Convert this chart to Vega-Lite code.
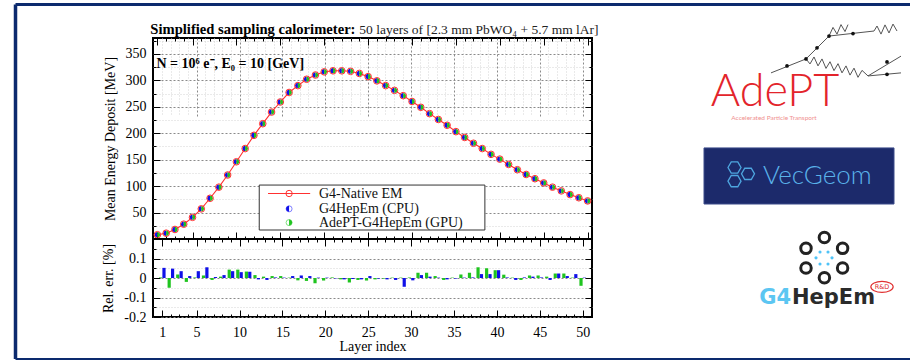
{
  "$schema": "https://vega.github.io/schema/vega-lite/v6.json",
  "padding": {"left": 13, "top": 2, "right": 0, "bottom": 0},
  "background": "white",
  "width": 439,
  "height": 279,
  "config": {
    "view": {"stroke": "black", "strokeWidth": 2},
    "font": "Liberation Serif",
    "axis": {
      "labelFont": "Liberation Serif", "labelFontSize": 14, "labelColor": "black",
      "titleFont": "Liberation Serif", "titleFontSize": 14, "titleFontWeight": "normal", "titleColor": "black",
      "domain": false, "tickColor": "black", "tickWidth": 1
    }
  },
  "datasets": {
    "cal": [
      {"layer": 1, "edep": 8, "relCPU": 0.052, "relGPU": 0.003},
      {"layer": 2, "edep": 11, "relCPU": 0.048, "relGPU": -0.05},
      {"layer": 3, "edep": 18, "relCPU": 0.035, "relGPU": 0.018},
      {"layer": 4, "edep": 28, "relCPU": 0.01, "relGPU": -0.02},
      {"layer": 5, "edep": 41, "relCPU": 0.035, "relGPU": 0.003},
      {"layer": 6, "edep": 57, "relCPU": 0.055, "relGPU": 0.013},
      {"layer": 7, "edep": 77, "relCPU": 0.005, "relGPU": -0.01},
      {"layer": 8, "edep": 98, "relCPU": 0.015, "relGPU": 0.007},
      {"layer": 9, "edep": 121, "relCPU": 0.035, "relGPU": 0.043},
      {"layer": 10, "edep": 146, "relCPU": 0.03, "relGPU": 0.043},
      {"layer": 11, "edep": 171, "relCPU": 0.032, "relGPU": 0.033},
      {"layer": 12, "edep": 196, "relCPU": -0.007, "relGPU": 0.015},
      {"layer": 13, "edep": 218, "relCPU": -0.01, "relGPU": 0.007},
      {"layer": 14, "edep": 240, "relCPU": 0.003, "relGPU": 0.01},
      {"layer": 15, "edep": 259, "relCPU": 0.002, "relGPU": 0.01},
      {"layer": 16, "edep": 277, "relCPU": 0.01, "relGPU": 0.002},
      {"layer": 17, "edep": 290, "relCPU": 0.013, "relGPU": -0.012},
      {"layer": 18, "edep": 302, "relCPU": 0.01, "relGPU": -0.015},
      {"layer": 19, "edep": 310, "relCPU": 0.002, "relGPU": -0.027},
      {"layer": 20, "edep": 316, "relCPU": 0.002, "relGPU": -0.013},
      {"layer": 21, "edep": 318, "relCPU": -0.002, "relGPU": 0.003},
      {"layer": 22, "edep": 318, "relCPU": -0.007, "relGPU": -0.007},
      {"layer": 23, "edep": 317, "relCPU": -0.005, "relGPU": -0.023},
      {"layer": 24, "edep": 313, "relCPU": -0.007, "relGPU": -0.01},
      {"layer": 25, "edep": 307, "relCPU": 0.01, "relGPU": -0.013},
      {"layer": 26, "edep": 299, "relCPU": -0.003, "relGPU": -0.007},
      {"layer": 27, "edep": 290, "relCPU": -0.007, "relGPU": -0.003},
      {"layer": 28, "edep": 281, "relCPU": -0.01, "relGPU": 0.002},
      {"layer": 29, "edep": 271, "relCPU": -0.045, "relGPU": 0.002},
      {"layer": 30, "edep": 260, "relCPU": -0.012, "relGPU": 0.002},
      {"layer": 31, "edep": 249, "relCPU": 0.015, "relGPU": 0.027},
      {"layer": 32, "edep": 237, "relCPU": 0.007, "relGPU": 0.027},
      {"layer": 33, "edep": 226, "relCPU": 0.002, "relGPU": 0.01},
      {"layer": 34, "edep": 215, "relCPU": -0.007, "relGPU": -0.01},
      {"layer": 35, "edep": 203, "relCPU": -0.003, "relGPU": 0.002},
      {"layer": 36, "edep": 192, "relCPU": 0.002, "relGPU": 0.018},
      {"layer": 37, "edep": 181, "relCPU": 0.003, "relGPU": 0.027},
      {"layer": 38, "edep": 171, "relCPU": 0.02, "relGPU": 0.055},
      {"layer": 39, "edep": 160, "relCPU": 0.02, "relGPU": 0.05},
      {"layer": 40, "edep": 151, "relCPU": 0.04, "relGPU": 0.04},
      {"layer": 41, "edep": 141, "relCPU": 0.003, "relGPU": 0.017},
      {"layer": 42, "edep": 131, "relCPU": -0.01, "relGPU": 0.002},
      {"layer": 43, "edep": 122, "relCPU": 0.003, "relGPU": -0.01},
      {"layer": 44, "edep": 114, "relCPU": 0.007, "relGPU": 0.013},
      {"layer": 45, "edep": 106, "relCPU": 0.003, "relGPU": 0.013},
      {"layer": 46, "edep": 98, "relCPU": -0.01, "relGPU": 0.007},
      {"layer": 47, "edep": 91, "relCPU": 0.023, "relGPU": 0.023},
      {"layer": 48, "edep": 84, "relCPU": 0.01, "relGPU": 0.023},
      {"layer": 49, "edep": 78, "relCPU": 0.02, "relGPU": 0.002},
      {"layer": 50, "edep": 72, "relCPU": 0.002, "relGPU": -0.04}
    ],
    "tracks": [
      {"track": "a", "u": 35, "v": 12.5}, {"track": "a", "u": 52.5, "v": 7.5}, {"track": "a", "u": 64, "v": -0.7}, {"track": "a", "u": 86.5, "v": -2.5},
      {"track": "p1", "u": 86.5, "v": -2.5}, {"track": "p1", "u": 88, "v": -4.3}, {"track": "p1", "u": 90, "v": -1.4}, {"track": "p1", "u": 92, "v": -4.7}, {"track": "p1", "u": 94, "v": -1.8}, {"track": "p1", "u": 96, "v": -5.0}, {"track": "p1", "u": 98, "v": -2.5},
      {"track": "p2", "u": 64, "v": -0.7}, {"track": "p2", "u": 66, "v": -3.8}, {"track": "p2", "u": 68, "v": -1.4}, {"track": "p2", "u": 70, "v": -4.8}, {"track": "p2", "u": 72, "v": -2.3}, {"track": "p2", "u": 73.5, "v": -4.8},
      {"track": "p3", "u": 52.5, "v": 7.5}, {"track": "p3", "u": 54.5, "v": 9.3}, {"track": "p3", "u": 56.5, "v": 6.8}, {"track": "p3", "u": 58.5, "v": 10.0}, {"track": "p3", "u": 60.5, "v": 7.5}, {"track": "p3", "u": 62.5, "v": 10.9}, {"track": "p3", "u": 64.5, "v": 8.5}, {"track": "p3", "u": 66.5, "v": 11.7}, {"track": "p3", "u": 68.5, "v": 9.2}, {"track": "p3", "u": 70.5, "v": 12.5}, {"track": "p3", "u": 72.5, "v": 10.0}, {"track": "p3", "u": 74.5, "v": 13.3}, {"track": "p3", "u": 76.5, "v": 10.8}, {"track": "p3", "u": 78.5, "v": 14.1}, {"track": "p3", "u": 80.5, "v": 11.6}, {"track": "p3", "u": 83.5, "v": 13.6},
      {"track": "e1", "u": 83.5, "v": 13.6}, {"track": "e1", "u": 100, "v": 6.5},
      {"track": "e2", "u": 83.5, "v": 13.6}, {"track": "e2", "u": 100, "v": 12.5}
    ],
    "vertices": [
      {"u": 52.5, "v": 7.5}, {"u": 64, "v": -0.7}, {"u": 43, "v": 10.0}, {"u": 58, "v": 3.5}, {"u": 76, "v": -1.6}, {"u": 93, "v": 8.6}, {"u": 93, "v": 13.0}
    ],
    "hexes": [{"u": 16.75, "v": 46.4}, {"u": 16.75, "v": 51.3}, {"u": 23.5, "v": 48.7}],
    "rings": [{"u": 61.7, "v": 71.5}, {"u": 52.5, "v": 75.4}, {"u": 70.8, "v": 75.4}, {"u": 52.5, "v": 82.4}, {"u": 70.8, "v": 82.4}, {"u": 61.7, "v": 85.9}],
    "dots": [{"u": 59.5, "v": 76.7}, {"u": 63.5, "v": 76.7}, {"u": 57.5, "v": 78.8}, {"u": 65.5, "v": 78.8}, {"u": 59.5, "v": 81.0}, {"u": 63.5, "v": 81.0}]
  },
  "layer": [
    {
      "data": {"name": "cal"},
      "layer": [
        {
          "mark": {"type": "line", "color": "#ff3030", "strokeWidth": 1.1},
          "encoding": {
            "x": {"field": "layer", "type": "quantitative",
              "scale": {"domain": [0.5, 50.5], "nice": false, "zero": false},
              "axis": {"orient": "bottom", "offset": -78, "title": null, "labels": false, "grid": false,
                "values": [1,2,3,4,5,6,7,8,9,10,11,12,13,14,15,16,17,18,19,20,21,22,23,24,25,26,27,28,29,30,31,32,33,34,35,36,37,38,39,40,41,42,43,44,45,46,47,48,49,50],
                "tickSize": {"condition": {"test": "datum.value % 5 === 0 || datum.value === 1", "value": -7}, "value": -3}}},
            "y": {"field": "edep", "type": "quantitative",
              "scale": {"domain": [0, 380], "nice": false, "range": [201, 0]},
              "axis": {"orient": "left", "title": "Mean Energy Deposit [MeV]", "titlePadding": 8,
                "values": [0,25,50,75,100,125,150,175,200,225,250,275,300,325,350,375],
                "labelExpr": "datum.value % 50 === 0 ? datum.label : ''",
                "labelPadding": 14,
                "tickSize": {"condition": {"test": "datum.value % 50 === 0", "value": -7}, "value": -3},
                "grid": true,
                "gridColor": {"condition": {"test": "datum.value % 50 === 0", "value": "#8a8a8a"}, "value": "#d4d4d4"},
                "gridDash": {"condition": {"test": "datum.value % 50 === 0", "value": [2, 2]}, "value": [1, 2]}}}
          }
        },
        {
          "mark": {"type": "point", "shape": "M0,-1A1,1,0,0,0,0,1Z", "filled": true, "color": "#1010e8", "size": 30, "opacity": 1},
          "encoding": {
            "x": {"field": "layer", "type": "quantitative",
              "axis": {"orient": "top", "title": null, "labels": false, "grid": false,
                "values": [1,2,3,4,5,6,7,8,9,10,11,12,13,14,15,16,17,18,19,20,21,22,23,24,25,26,27,28,29,30,31,32,33,34,35,36,37,38,39,40,41,42,43,44,45,46,47,48,49,50],
                "tickSize": {"condition": {"test": "datum.value % 5 === 0 || datum.value === 1", "value": -7}, "value": -3}}},
            "y": {"field": "edep", "type": "quantitative",
              "axis": {"orient": "right", "title": null, "labels": false, "grid": false,
                "values": [0,25,50,75,100,125,150,175,200,225,250,275,300,325,350,375],
                "tickSize": {"condition": {"test": "datum.value % 50 === 0", "value": -7}, "value": -3}}}
          }
        },
        {
          "mark": {"type": "point", "shape": "M0,-1A1,1,0,0,1,0,1Z", "filled": true, "color": "#1fc41f", "size": 30, "opacity": 1},
          "encoding": {
            "x": {"field": "layer", "type": "quantitative", "axis": null},
            "y": {"field": "edep", "type": "quantitative", "axis": null}
          }
        },
        {
          "mark": {"type": "point", "shape": "circle", "filled": false, "color": "#ff3030", "size": 44, "strokeWidth": 1, "opacity": 1},
          "encoding": {
            "x": {"field": "layer", "type": "quantitative", "axis": null},
            "y": {"field": "edep", "type": "quantitative", "axis": null}
          }
        },
        {
          "data": {"values": [{}]},
          "mark": {"type": "rule", "color": "black", "strokeWidth": 2},
          "encoding": {"x": {"datum": 0.5, "axis": null}, "x2": {"datum": 50.5}, "y": {"datum": 0, "axis": null}}
        },
        {
          "data": {"values": [{}]},
          "mark": {"type": "text", "text": "Simplified sampling calorimeter:", "font": "Liberation Serif", "fontSize": 14.6, "fontWeight": "bold", "align": "left", "baseline": "middle", "color": "black"},
          "encoding": {"x": {"datum": 0.2, "axis": null}, "y": {"datum": 396, "axis": null}}
        },
        {
          "data": {"values": [{}]},
          "mark": {"type": "text", "text": "50 layers of [2.3 mm PbWO₄ + 5.7 mm lAr]", "font": "Liberation Serif", "fontSize": 13.5, "align": "left", "baseline": "middle", "color": "#222"},
          "encoding": {"x": {"datum": 24.0, "axis": null}, "y": {"datum": 396, "axis": null}}
        },
        {
          "data": {"values": [{}]},
          "mark": {"type": "text", "text": "N = 10⁶ e⁻, E₀ = 10 [GeV]", "font": "Liberation Serif", "fontSize": 14, "fontWeight": "bold", "align": "left", "baseline": "middle", "color": "black"},
          "encoding": {"x": {"datum": 0.9, "axis": null}, "y": {"datum": 331, "axis": null}}
        },
        {
          "data": {"values": [{}]},
          "mark": {"type": "rect", "fill": "white", "stroke": "#333", "strokeWidth": 1},
          "encoding": {"x": {"datum": 12.6, "axis": null}, "x2": {"datum": 38.3}, "y": {"datum": 102, "axis": null}, "y2": {"datum": 17}}
        },
        {
          "data": {"values": [{}]},
          "mark": {"type": "rule", "color": "#ff3030", "strokeWidth": 1.1},
          "encoding": {"x": {"datum": 13.6, "axis": null}, "x2": {"datum": 18.4}, "y": {"datum": 86, "axis": null}}
        },
        {
          "data": {"values": [{}]},
          "mark": {"type": "point", "shape": "circle", "filled": false, "color": "#ff3030", "size": 40, "strokeWidth": 1, "opacity": 1},
          "encoding": {"x": {"datum": 16.0, "axis": null}, "y": {"datum": 86, "axis": null}}
        },
        {
          "data": {"values": [{}]},
          "mark": {"type": "point", "shape": "circle", "filled": false, "color": "#8080ff", "size": 36, "strokeWidth": 1, "opacity": 1},
          "encoding": {"x": {"datum": 16.0, "axis": null}, "y": {"datum": 57, "axis": null}}
        },
        {
          "data": {"values": [{}]},
          "mark": {"type": "point", "shape": "M0,-1A1,1,0,0,0,0,1Z", "filled": true, "color": "#1010e8", "size": 36, "opacity": 1},
          "encoding": {"x": {"datum": 16.0, "axis": null}, "y": {"datum": 57, "axis": null}}
        },
        {
          "data": {"values": [{}]},
          "mark": {"type": "point", "shape": "circle", "filled": false, "color": "#80e080", "size": 36, "strokeWidth": 1, "opacity": 1},
          "encoding": {"x": {"datum": 16.0, "axis": null}, "y": {"datum": 31, "axis": null}}
        },
        {
          "data": {"values": [{}]},
          "mark": {"type": "point", "shape": "M0,-1A1,1,0,0,1,0,1Z", "filled": true, "color": "#1fc41f", "size": 36, "opacity": 1},
          "encoding": {"x": {"datum": 16.0, "axis": null}, "y": {"datum": 31, "axis": null}}
        },
        {
          "data": {"values": [{"label": "G4-Native EM", "row": 86}, {"label": "G4HepEm (CPU)", "row": 57}, {"label": "AdePT-G4HepEm (GPU)", "row": 31}]},
          "mark": {"type": "text", "font": "Liberation Serif", "fontSize": 14, "align": "left", "baseline": "middle", "color": "#111"},
          "encoding": {"x": {"datum": 19.4, "axis": null}, "y": {"field": "row", "type": "quantitative", "axis": null}, "text": {"field": "label"}}
        }
      ],
      "resolve": {"axis": {"x": "independent", "y": "independent"}}
    },
    {
      "data": {"name": "cal"},
      "layer": [
        {
          "mark": {"type": "bar", "orient": "vertical", "color": "#1fc41f", "size": 3.2, "xOffset": -1.7},
          "encoding": {
            "x": {"field": "layer", "type": "quantitative",
              "scale": {"domain": [0.5, 50.5], "nice": false, "zero": false},
              "axis": {"orient": "bottom", "title": "Layer index", "titlePadding": 0,
                "values": [1,2,3,4,5,6,7,8,9,10,11,12,13,14,15,16,17,18,19,20,21,22,23,24,25,26,27,28,29,30,31,32,33,34,35,36,37,38,39,40,41,42,43,44,45,46,47,48,49,50],
                "labelExpr": "datum.value % 5 === 0 || datum.value === 1 ? datum.label : ''",
                "labelPadding": 15,
                "tickSize": {"condition": {"test": "datum.value % 5 === 0 || datum.value === 1", "value": -7}, "value": -3},
                "grid": true,
                "gridColor": {"condition": {"test": "datum.value % 5 === 0", "value": "#8a8a8a"}, "value": "#d4d4d4"},
                "gridDash": {"condition": {"test": "datum.value % 5 === 0", "value": [2, 2]}, "value": [1, 2]}}},
            "y": {"field": "relGPU", "type": "quantitative",
              "scale": {"domain": [-0.2, 0.2], "nice": false, "range": [279, 201]},
              "axis": {"orient": "left", "title": "Rel. err. [%]", "titlePadding": 8,
                "values": [-0.2, -0.15, -0.1, -0.05, 0, 0.05, 0.1, 0.15, 0.2],
                "labelExpr": "abs(datum.value*10 - round(datum.value*10)) < 0.001 && datum.value < 0.15 ? '' + datum.value : ''",
                "labelPadding": 14,
                "tickSize": {"condition": {"test": "abs(datum.value*10 - round(datum.value*10)) < 0.001", "value": -7}, "value": -3},
                "grid": true,
                "gridColor": {"condition": {"test": "abs(datum.value*10 - round(datum.value*10)) < 0.001", "value": "#8a8a8a"}, "value": "#d4d4d4"},
                "gridDash": {"condition": {"test": "abs(datum.value*10 - round(datum.value*10)) < 0.001", "value": [2, 2]}, "value": [1, 2]}}}
          }
        },
        {
          "mark": {"type": "bar", "orient": "vertical", "color": "#1010e8", "size": 3.2, "xOffset": 1.7},
          "encoding": {
            "x": {"field": "layer", "type": "quantitative",
              "axis": {"orient": "top", "offset": -201, "title": null, "labels": false, "grid": false,
                "values": [1,2,3,4,5,6,7,8,9,10,11,12,13,14,15,16,17,18,19,20,21,22,23,24,25,26,27,28,29,30,31,32,33,34,35,36,37,38,39,40,41,42,43,44,45,46,47,48,49,50],
                "tickSize": {"condition": {"test": "datum.value % 5 === 0 || datum.value === 1", "value": -7}, "value": -3}}},
            "y": {"field": "relCPU", "type": "quantitative",
              "axis": {"orient": "right", "title": null, "labels": false, "grid": false,
                "values": [-0.2, -0.15, -0.1, -0.05, 0, 0.05, 0.1, 0.15, 0.2],
                "tickSize": {"condition": {"test": "abs(datum.value*10 - round(datum.value*10)) < 0.001", "value": -7}, "value": -3}}}
          }
        }
      ],
      "resolve": {"axis": {"x": "independent", "y": "independent"}}
    },
    {
      "layer": [
        {
          "data": {"name": "tracks"},
          "mark": {"type": "line", "color": "#555", "strokeWidth": 1},
          "encoding": {
            "x": {"field": "u", "type": "quantitative", "scale": {"domain": [0, 100], "nice": false, "zero": false, "range": [548, 748]}, "axis": null},
            "y": {"field": "v", "type": "quantitative", "scale": {"domain": [0, 100], "nice": false, "zero": false, "range": [0, 279]}, "axis": null},
            "detail": {"field": "track"}
          }
        },
        {
          "data": {"name": "vertices"},
          "mark": {"type": "point", "shape": "circle", "filled": true, "color": "#111", "size": 14, "opacity": 1},
          "encoding": {"x": {"field": "u", "type": "quantitative", "axis": null}, "y": {"field": "v", "type": "quantitative", "axis": null}}
        },
        {
          "data": {"values": [{}]},
          "mark": {"type": "text", "text": "AdePT", "font": "Lato", "fontWeight": 300, "fontSize": 45, "align": "center", "baseline": "alphabetic", "color": "#e3242b"},
          "encoding": {"x": {"datum": 37, "axis": null}, "y": {"datum": 24.4, "axis": null}}
        },
        {
          "data": {"values": [{}]},
          "mark": {"type": "text", "text": "Accelerated Particle Transport", "font": "Lato", "fontSize": 6.5, "align": "center", "baseline": "middle", "color": "#f09090"},
          "encoding": {"x": {"datum": 36.5, "axis": null}, "y": {"datum": 28.8, "axis": null}}
        },
        {
          "data": {"values": [{}]},
          "mark": {"type": "rect", "fill": "#1c2a6b", "stroke": "#3a4a8a", "strokeWidth": 1},
          "encoding": {"x": {"datum": 1.5, "axis": null}, "x2": {"datum": 96.5}, "y": {"datum": 39.4, "axis": null}, "y2": {"datum": 59.5}}
        },
        {
          "data": {"name": "hexes"},
          "mark": {"type": "point", "shape": "M-1,0L-0.5,-0.866L0.5,-0.866L1,0L0.5,0.866L-0.5,0.866Z", "filled": false, "color": "#4ea6e0", "size": 170, "strokeWidth": 1.3, "opacity": 1},
          "encoding": {"x": {"field": "u", "type": "quantitative", "axis": null}, "y": {"field": "v", "type": "quantitative", "axis": null}}
        },
        {
          "data": {"values": [{}]},
          "mark": {"type": "text", "text": "VecGeom", "font": "Lato", "fontWeight": 300, "fontSize": 26, "align": "left", "baseline": "middle", "color": "#5ab2ea"},
          "encoding": {"x": {"datum": 31, "axis": null}, "y": {"datum": 49.5, "axis": null}}
        },
        {
          "data": {"name": "rings"},
          "mark": {"type": "point", "shape": "circle", "filled": false, "color": "#222", "size": 110, "strokeWidth": 3, "opacity": 1},
          "encoding": {"x": {"field": "u", "type": "quantitative", "axis": null}, "y": {"field": "v", "type": "quantitative", "axis": null}}
        },
        {
          "data": {"name": "dots"},
          "mark": {"type": "point", "shape": "circle", "filled": true, "color": "#4fc3f7", "size": 10, "opacity": 1},
          "encoding": {"x": {"field": "u", "type": "quantitative", "axis": null}, "y": {"field": "v", "type": "quantitative", "axis": null}}
        },
        {
          "data": {"values": [{}]},
          "mark": {"type": "text", "text": "G4", "font": "DejaVu Sans", "fontWeight": "bold", "fontSize": 21, "align": "right", "baseline": "middle", "color": "#5cc6f2"},
          "encoding": {"x": {"datum": 45, "axis": null}, "y": {"datum": 93.2, "axis": null}}
        },
        {
          "data": {"values": [{}]},
          "mark": {"type": "text", "text": "HepEm", "font": "DejaVu Sans", "fontWeight": "bold", "fontSize": 21, "align": "left", "baseline": "middle", "color": "#2b2b2b"},
          "encoding": {"x": {"datum": 45.5, "axis": null}, "y": {"datum": 93.2, "axis": null}}
        },
        {
          "data": {"values": [{}]},
          "mark": {"type": "point", "shape": "M-1,0A1,0.5,0,1,0,1,0A1,0.5,0,1,0,-1,0Z", "filled": false, "color": "#e03030", "size": 500, "strokeWidth": 1.2, "opacity": 1},
          "encoding": {"x": {"datum": 90.5, "axis": null}, "y": {"datum": 89.2, "axis": null}}
        },
        {
          "data": {"values": [{}]},
          "mark": {"type": "text", "text": "R&D", "font": "DejaVu Sans", "fontSize": 6.5, "align": "center", "baseline": "middle", "color": "#e03030"},
          "encoding": {"x": {"datum": 90.5, "axis": null}, "y": {"datum": 89.2, "axis": null}}
        }
      ]
    },
    {
      "data": {"values": [{}]},
      "layer": [
        {
          "mark": {"type": "rule", "color": "#0c2a6e", "strokeWidth": 3.5},
          "encoding": {
            "x": {"datum": 0, "scale": {"domain": [0, 1], "nice": false, "zero": false, "range": [-137.5, 760]}, "axis": null},
            "y": {"datum": 0, "scale": {"domain": [0, 1], "nice": false, "zero": false, "range": [-33.5, 321]}, "axis": null},
            "y2": {"datum": 1}
          }
        },
        {
          "mark": {"type": "rule", "color": "#0c2a6e", "strokeWidth": 3},
          "encoding": {"x": {"datum": 0, "axis": null}, "x2": {"datum": 1}, "y": {"datum": 0, "axis": null}}
        },
        {
          "mark": {"type": "rule", "color": "#0c2a6e", "strokeWidth": 2},
          "encoding": {"x": {"datum": 0, "axis": null}, "x2": {"datum": 1}, "y": {"datum": 1, "axis": null}}
        }
      ]
    }
  ],
  "resolve": {"scale": {"x": "independent", "y": "independent"}, "axis": {"x": "independent", "y": "independent"}}
}
